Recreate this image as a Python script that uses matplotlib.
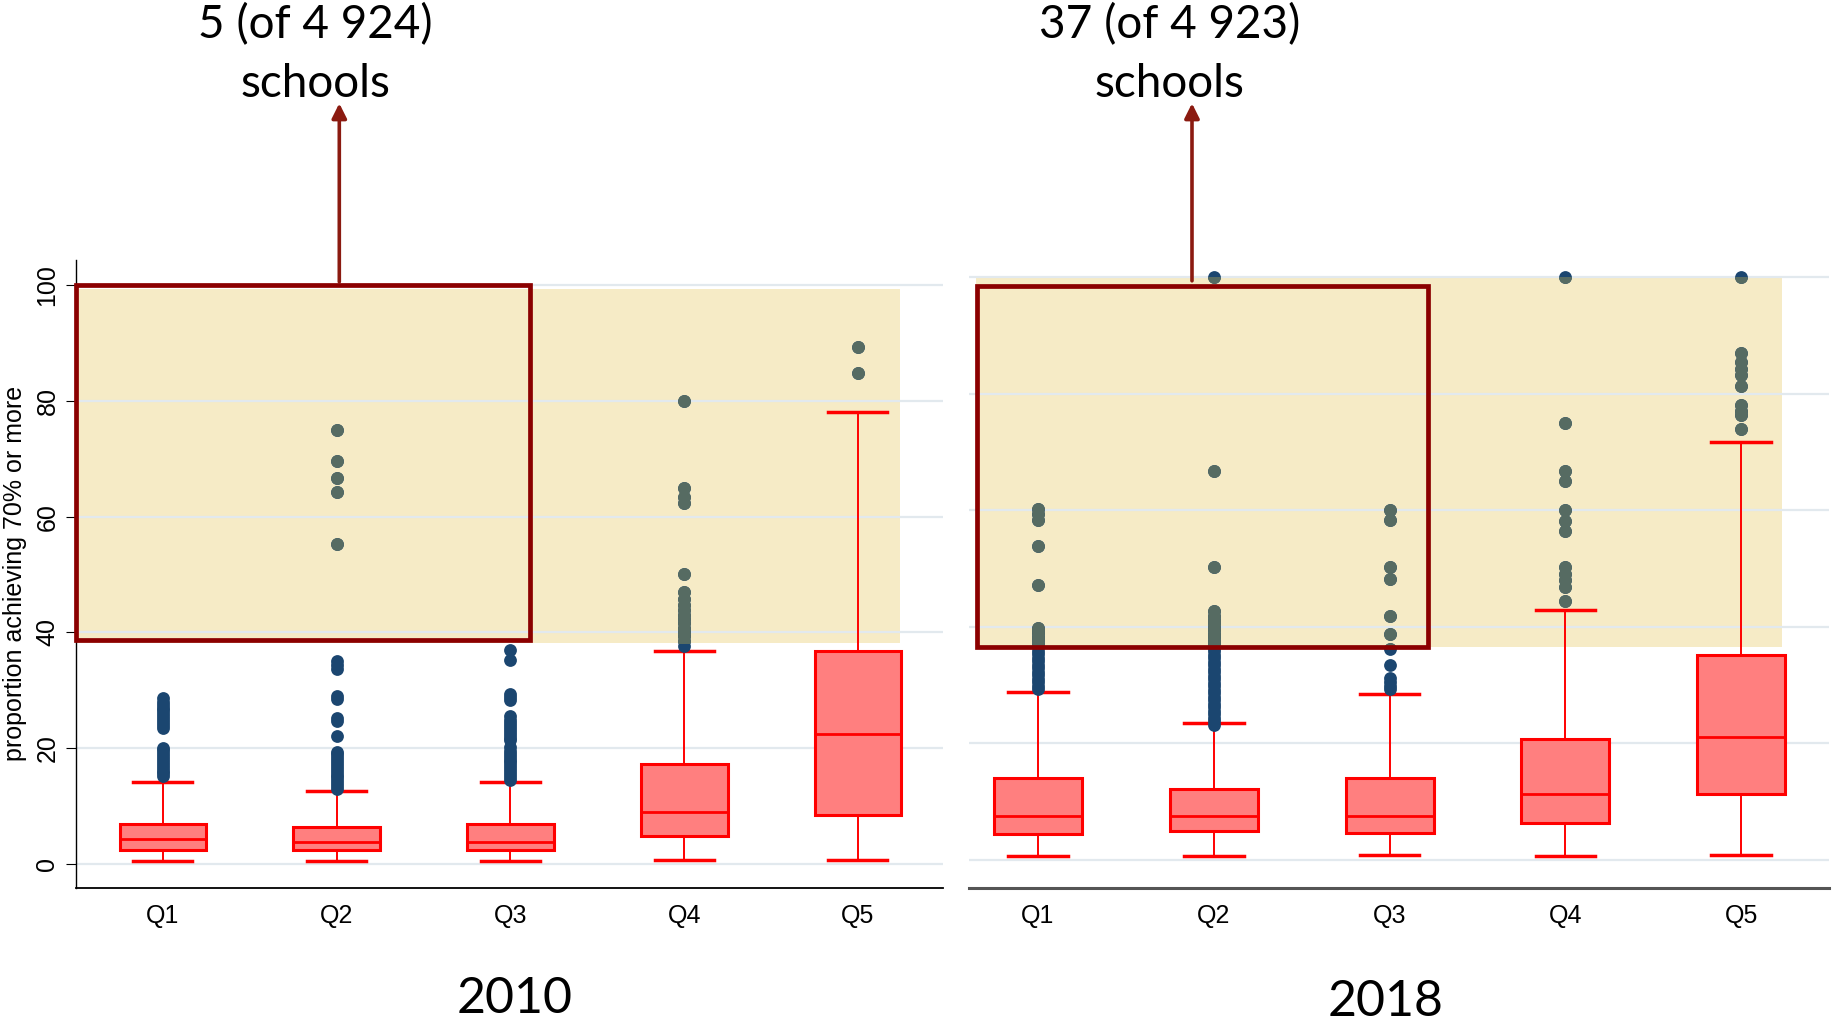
import numpy as np
import matplotlib.pyplot as plt
from matplotlib.patches import Rectangle

quintiles = ['Q1', 'Q2', 'Q3', 'Q4', 'Q5']

# 2010 box statistics per quintile
lo_2010 = [0.4, 0.5, 0.4, 0.6, 0.6]
q1_2010 = [2.4, 2.4, 2.4, 4.7, 8.5]
med_2010 = [4.2, 3.8, 3.8, 9.0, 22.4]
q3_2010 = [6.9, 6.4, 6.9, 17.3, 36.7]
hi_2010 = [14.2, 12.5, 14.2, 36.7, 78.1]
out_2010 = [
    [15.1, 15.6, 16.1, 16.6, 17.1, 17.6, 18.1, 18.6, 19.1, 19.6, 20.0,
     23.5, 24.0, 24.5, 25.0, 25.5, 26.0, 26.5, 27.0, 27.5, 28.0, 28.7],
    [12.9, 13.4, 13.9, 14.4, 14.9, 15.4, 15.9, 16.4, 16.9, 17.4, 17.9, 18.4, 18.9, 19.3,
     22.1, 24.7, 25.1, 28.5, 29.0, 33.7, 34.3, 35.0,
     55.3, 64.2, 66.6, 69.6, 74.9],
    [14.5, 15.0, 15.5, 16.0, 16.5, 17.0, 17.5, 18.0, 18.5, 19.0, 19.5, 20.2,
     21.3, 21.8, 22.3, 22.8, 23.3, 23.8, 24.3, 24.8, 25.6,
     28.3, 28.8, 29.4, 35.2, 36.9],
    [37.7, 38.5, 39.3, 40.0, 40.8, 41.6, 42.3, 43.0, 43.9, 44.8, 45.8, 46.9,
     50.0, 62.3, 63.4, 64.9, 80.0],
    [84.8, 89.3],
]

# 2018 box statistics per quintile
lo_2018 = [0.6, 0.6, 0.8, 0.7, 0.9]
q1_2018 = [4.5, 5.0, 4.7, 6.4, 11.4]
med_2018 = [7.6, 7.6, 7.6, 11.4, 21.1]
q3_2018 = [14.1, 12.2, 14.1, 20.7, 35.2]
hi_2018 = [28.9, 23.5, 28.5, 42.9, 71.8]
out_2018 = [
    [29.3, 29.9, 30.5, 31.1, 31.7, 32.3, 32.9, 33.5, 34.1, 34.7, 35.3, 35.9,
     36.5, 37.1, 37.7, 38.3, 38.9, 39.5, 39.8, 47.2, 53.9, 58.4, 59.4, 60.3],
    [23.2, 23.8, 24.4, 25.0, 25.6, 26.2, 26.8, 27.4, 28.0, 28.6, 29.2, 29.8,
     30.4, 31.0, 31.6, 32.2, 32.8, 33.4, 34.0, 34.6, 35.2, 35.8, 36.4, 37.0,
     37.6, 38.2, 38.8, 39.4, 40.0, 40.6, 41.2, 41.8, 42.7, 50.2, 66.7, 100.0],
    [29.3, 29.9, 30.5, 31.3, 33.4, 36.2, 38.8, 41.8, 48.3, 50.2, 58.4, 60.1],
    [44.4, 46.9, 48.0, 49.1, 50.3, 56.5, 58.2, 60.1, 65.1, 66.8, 75.0, 100.0],
    [73.9, 76.3, 77.0, 78.1, 81.4, 83.2, 84.2, 85.5, 87.0, 100.0],
]

notes = ['5 (of 4 924)\nschools', '37 (of 4 923)\nschools']
years = ['2010', '2018']

title_font = ['Lato', 'DejaVu Sans']
plt.rcParams['font.family'] = ['Liberation Sans', 'DejaVu Sans']

fig = plt.figure(figsize=(18.33, 10.23), dpi=100)
ax1 = fig.add_axes([0.0415, 0.132, 0.473, 0.614])
ax2 = fig.add_axes([0.5287, 0.132, 0.4693, 0.614])

blue = '#1b4670'
grey = '#566b62'
frame_red = '#8b0000'


def draw_panel(ax, lo, q1, med, q3, hi, outliers, shade, frame, ylim, xlim):
    pos = np.arange(1, len(quintiles) + 1)
    stats = []
    for i, name in enumerate(quintiles):
        stats.append(dict(med=med[i], q1=q1[i], q3=q3[i], whislo=lo[i],
                          whishi=hi[i], fliers=[], label=name))

    # shaded band of high-achieving schools
    band = Rectangle((shade[0], shade[2]), shade[1] - shade[0], shade[3] - shade[2],
                     facecolor='#f6ebc6', edgecolor='none', zorder=0.2)
    ax.add_patch(band)

    ax.bxp(stats, positions=pos, widths=0.5, capwidths=0.34, patch_artist=True,
           showfliers=False,
           boxprops=dict(facecolor='#ff7f7f', edgecolor='red', linewidth=2.2),
           medianprops=dict(color='red', linewidth=2),
           whiskerprops=dict(color='red', linewidth=1.4),
           capprops=dict(color='red', linewidth=2.5))

    # outliers: dark blue, turning grey inside the shaded band
    for i, vals in enumerate(outliers):
        xs = np.full(len(vals), pos[i])
        ax.scatter(xs, vals, s=85, color=blue, linewidths=0, zorder=4)
        sc = ax.scatter(xs, vals, s=85, color=grey, linewidths=0, zorder=5)
        sc.set_clip_path(band)

    ax.add_patch(Rectangle((frame[0], frame[2]), frame[1] - frame[0], frame[3] - frame[2],
                           fill=False, edgecolor=frame_red, linewidth=3.4, zorder=6,
                           clip_on=False))

    ax.set_xlim(*xlim)
    ax.set_ylim(*ylim)
    ax.set_xticks(pos)
    ax.set_xticklabels(quintiles, fontsize=18)
    ax.set_yticks([0, 20, 40, 60, 80, 100])
    ax.set_axisbelow(True)
    ax.yaxis.grid(True, color='#e2e9ee', linewidth=1.6)
    ax.tick_params(axis='x', bottom=False, pad=8)
    for side in ['top', 'right']:
        ax.spines[side].set_visible(False)


draw_panel(ax1, lo_2010, q1_2010, med_2010, q3_2010, hi_2010, out_2010,
           shade=(0.5, 5.24, 38.2, 99.4), frame=(0.5, 3.11, 38.6, 100.0),
           ylim=(-4.2, 104.4), xlim=(0.5, 5.49))
draw_panel(ax2, lo_2018, q1_2018, med_2018, q3_2018, hi_2018, out_2018,
           shade=(0.65, 5.23, 36.5, 100.1), frame=(0.655, 3.22, 36.5, 98.5),
           ylim=(-4.8, 103.0), xlim=(0.61, 5.5))

ax1.set_yticklabels(['0', '20', '40', '60', '80', '100'], fontsize=18, rotation=90, va='center')
ax1.tick_params(axis='y', length=7, pad=5)
ax1.set_ylabel('proportion achieving 70% or more', fontsize=18, labelpad=6)
ax1.spines['bottom'].set_linewidth(1.3)
ax1.spines['left'].set_linewidth(1.0)

ax2.spines['left'].set_visible(False)
ax2.spines['bottom'].set_color('#555555')
ax2.spines['bottom'].set_linewidth(2.2)
ax2.tick_params(axis='y', left=False, labelleft=False)

# arrows leading up to the counts
arrow_x = [2.015, 1.877]
arrow_y = [100.6, 99.4]
text_x = [0.172, 0.638]
for ax, ax_x, ay, tx, note in zip([ax1, ax2], arrow_x, arrow_y, text_x, notes):
    ax.annotate('', xy=(ax_x, 0.899), xycoords=('data', 'figure fraction'),
                xytext=(ax_x, ay), textcoords='data',
                arrowprops=dict(arrowstyle='-|>', color='#8b1a10', lw=2.6,
                                mutation_scale=22, shrinkA=0, shrinkB=0),
                annotation_clip=False)
    first, second = note.split('\n')
    fig.text(tx, 0.976, first, ha='center', va='center', fontsize=33, family=title_font)
    fig.text(tx, 0.918, second, ha='center', va='center', fontsize=33, family=title_font)

fig.text(0.281, 0.0235, years[0], ha='center', va='center', fontsize=36, family=title_font)
fig.text(0.756, 0.021, years[1], ha='center', va='center', fontsize=36, family=title_font)

fig.savefig('out.png', dpi=100)
